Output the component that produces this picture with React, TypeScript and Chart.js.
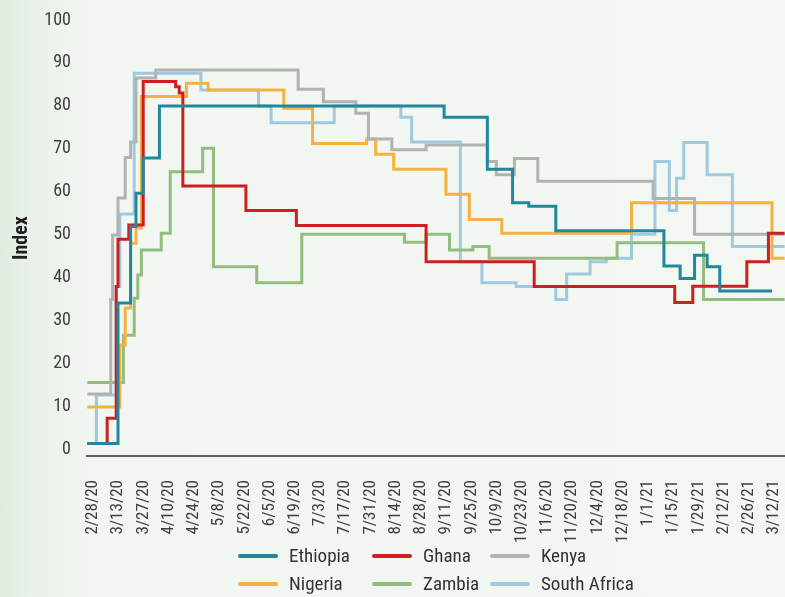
import React, { useEffect, useRef } from 'react';
import { Chart, registerables } from 'chart.js';

Chart.register(...registerables);

const FONT = "'Liberation Sans Narrow', 'Roboto Condensed', 'DejaVu Sans Condensed', 'Liberation Sans', sans-serif";

const tickDates = ['2/28/20', '3/13/20', '3/27/20', '4/10/20', '4/24/20', '5/8/20', '5/22/20', '6/5/20', '6/19/20', '7/3/20', '7/17/20', '7/31/20', '8/14/20', '8/28/20', '9/11/20', '9/25/20', '10/9/20', '10/23/20', '11/6/20', '11/20/20', '12/4/20', '12/18/20', '1/1/21', '1/15/21', '1/29/21', '2/12/21', '2/26/21', '3/12/21'];
const yTicks = [0, 10, 20, 30, 40, 50, 60, 70, 80, 90, 100];

const seriesNames = ['Ethiopia', 'Ghana', 'Kenya', 'Nigeria', 'Zambia', 'South Africa'];
const seriesColors = ['#22879a', '#cc2020', '#b2b2b2', '#f5b142', '#92bd7f', '#9fc9df'];

// Each series: dates where the index changes, and the new value from that date
const ethiopiaDates = ['2/26/20', '3/14/20', '3/21/20', '3/24/20', '3/28/20', '4/6/20', '9/11/20', '10/5/20', '10/19/20', '10/28/20', '11/12/20', '1/11/21', '1/20/21', '1/28/21', '2/4/21', '2/11/21', '3/12/21'];
const ethiopiaValues = [1.5, 34.2, 52, 59.7, 67.9, 80, 77.4, 65.3, 57.5, 56.7, 51, 42.8, 39.9, 45.3, 42.6, 37, 37];

const ghanaDates = ['2/26/20', '3/8/20', '3/13/20', '3/14/20', '3/20/20', '3/28/20', '4/15/20', '4/17/20', '4/19/20', '5/24/20', '6/21/20', '9/1/20', '10/31/20', '1/17/21', '1/27/21', '2/26/21', '3/10/21', '3/19/21'];
const ghanaValues = [1.5, 7.4, 38, 49, 52.3, 85.7, 84.5, 83, 61.4, 55.7, 52.2, 43.8, 38, 34.3, 38.1, 43.8, 50.4, 50.4];

const kenyaDates = ['2/26/20', '3/10/20', '3/11/20', '3/14/20', '3/18/20', '3/21/20', '3/24/20', '4/4/20', '6/22/20', '7/6/20', '7/24/20', '7/31/20', '8/13/20', '9/1/20', '10/5/20', '10/10/20', '10/20/20', '11/2/20', '1/5/21', '1/28/21', '3/19/21'];
const kenyaValues = [13, 35, 50, 58.6, 68, 71.6, 86.5, 88.4, 83.9, 81, 78.3, 72.3, 69.8, 70.9, 67.1, 64, 67.8, 62.5, 58.5, 50.2, 50.2];

const nigeriaDates = ['2/26/20', '3/15/20', '3/18/20', '3/21/20', '3/24/20', '3/27/20', '4/21/20', '5/3/20', '6/14/20', '6/30/20', '7/30/20', '8/4/20', '8/14/20', '9/12/20', '9/25/20', '10/13/20', '12/24/20', '3/12/21', '3/19/21'];
const nigeriaValues = [10, 24.4, 33, 48.1, 51.6, 82.2, 85.3, 83.7, 79.5, 71.3, 72.3, 68.8, 65.3, 59.5, 53.6, 50.4, 57.5, 44.6, 44.6];

const zambiaDates = ['2/26/20', '3/17/20', '3/23/20', '3/25/20', '3/27/20', '4/7/20', '4/12/20', '4/30/20', '5/6/20', '5/30/20', '6/24/20', '8/20/20', '9/1/20', '9/14/20', '9/27/20', '10/6/20', '12/16/20', '2/2/21', '3/19/21'];
const zambiaValues = [15.7, 26.7, 35.3, 40.7, 46.5, 50.4, 64.7, 70.2, 42.6, 38.9, 50.2, 48.3, 50.2, 46.5, 47.3, 44.6, 48.2, 35, 35];

const southAfricaDates = ['2/26/20', '3/2/20', '3/13/20', '3/15/20', '3/23/20', '4/29/20', '5/31/20', '6/7/20', '7/12/20', '8/18/20', '8/24/20', '9/20/20', '10/2/20', '10/21/20', '11/12/20', '11/18/20', '12/1/20', '12/10/20', '12/24/20', '1/6/21', '1/14/21', '1/18/21', '1/22/21', '2/4/21', '2/18/21', '3/19/21'];
const southAfricaValues = [1.5, 12.8, 38, 54.9, 87.6, 83.7, 80, 76.1, 80, 77.4, 71.6, 43.8, 38.9, 38, 35, 40.9, 43.8, 44.6, 50.2, 67.1, 55.7, 63.2, 71.5, 64, 47.3, 47.3];

const seriesDates = [ethiopiaDates, ghanaDates, kenyaDates, nigeriaDates, zambiaDates, southAfricaDates];
const seriesValues = [ethiopiaValues, ghanaValues, kenyaValues, nigeriaValues, zambiaValues, southAfricaValues];

const ORIGIN = Date.UTC(2020, 1, 28);
function dayIndex(s: string): number {
  const [m, d, y] = s.split('/').map(Number);
  return Math.round((Date.UTC(2000 + y, m - 1, d) - ORIGIN) / 86400000);
}

const legendOrder = [[0, 1, 2], [3, 4, 5]];
const legendCols = [238, 372, 490];
const legendRows = [556, 584];

export default function App() {
  const ref = useRef<HTMLCanvasElement | null>(null);

  useEffect(() => {
    if (!ref.current) return;
    const tickMap = new Map<number, string>();
    tickDates.forEach((t) => tickMap.set(dayIndex(t), t));
    const chart = new Chart(ref.current, {
      type: 'line',
      data: {
        datasets: seriesNames.map((name, i) => ({
          label: name,
          data: seriesDates[i].map((d, j) => ({ x: dayIndex(d), y: seriesValues[i][j] })),
          borderColor: seriesColors[i],
          backgroundColor: seriesColors[i],
          borderWidth: 3,
          pointRadius: 0,
          stepped: 'before' as const,
          fill: false,
        })),
      },
      options: {
        responsive: false,
        animation: false,
        events: [],
        layout: { padding: { top: 20, left: 0, right: 0, bottom: 0 }, autoPadding: false },
        plugins: { legend: { display: false }, tooltip: { enabled: false } },
        scales: {
          x: {
            type: 'linear',
            min: -2.2,
            max: 385.2,
            grid: { display: false, drawTicks: false },
            border: { display: true, color: '#636363', width: 2 },
            afterBuildTicks: (scale: any) => {
              scale.ticks = tickDates.map((t) => ({ value: dayIndex(t) }));
            },
            afterFit: (scale: any) => {
              scale.height = 141;
              scale.paddingLeft = 0;
              scale.paddingRight = 0;
            },
            ticks: {
              autoSkip: false,
              maxRotation: 90,
              minRotation: 90,
              padding: 24,
              labelOffset: 2,
              color: '#404040',
              font: { family: FONT, size: 17 },
              callback: (v: any) => tickMap.get(Number(v)) ?? '',
            },
          },
          y: {
            type: 'linear',
            min: -1.4,
            max: 100,
            grid: { display: false, drawTicks: false },
            border: { display: false },
            afterBuildTicks: (scale: any) => {
              scale.ticks = yTicks.map((v) => ({ value: v }));
            },
            afterFit: (scale: any) => {
              scale.width = 87;
              scale.paddingTop = 0;
              scale.paddingBottom = 0;
            },
            ticks: {
              padding: 16,
              color: '#404040',
              font: { family: FONT, size: 18 },
            },
            title: {
              display: true,
              text: 'Index',
              color: '#1e1e1e',
              font: { family: FONT, size: 20, weight: 'bold' },
              padding: { top: 10, bottom: 0 },
            },
          },
        },
      },
    });
    return () => chart.destroy();
  }, []);

  return (
    <div
      style={{
        position: 'absolute',
        left: 0,
        top: 0,
        width: 785,
        height: 597,
        overflow: 'hidden',
        background: 'linear-gradient(to right, #e1ebe0 0px, #eaf2e9 35px, #f1f6f0 90px, #f2f7f2 785px)',
        fontFamily: FONT,
      }}
    >
      <canvas ref={ref} width={785} height={597} style={{ position: 'absolute', left: 0, top: 0 }} />
      {legendOrder.map((row, r) =>
        row.map((si, c) => (
          <div key={si}>
            <div
              style={{
                position: 'absolute',
                left: legendCols[c],
                top: legendRows[r] - 2,
                width: 40,
                height: 4,
                borderRadius: 2,
                background: seriesColors[si],
              }}
            />
            <div
              style={{
                position: 'absolute',
                left: legendCols[c] + 51,
                top: legendRows[r] - 12,
                height: 24,
                lineHeight: '24px',
                fontSize: 19,
                color: '#333',
                whiteSpace: 'nowrap',
              }}
            >
              {seriesNames[si]}
            </div>
          </div>
        ))
      )}
    </div>
  );
}
